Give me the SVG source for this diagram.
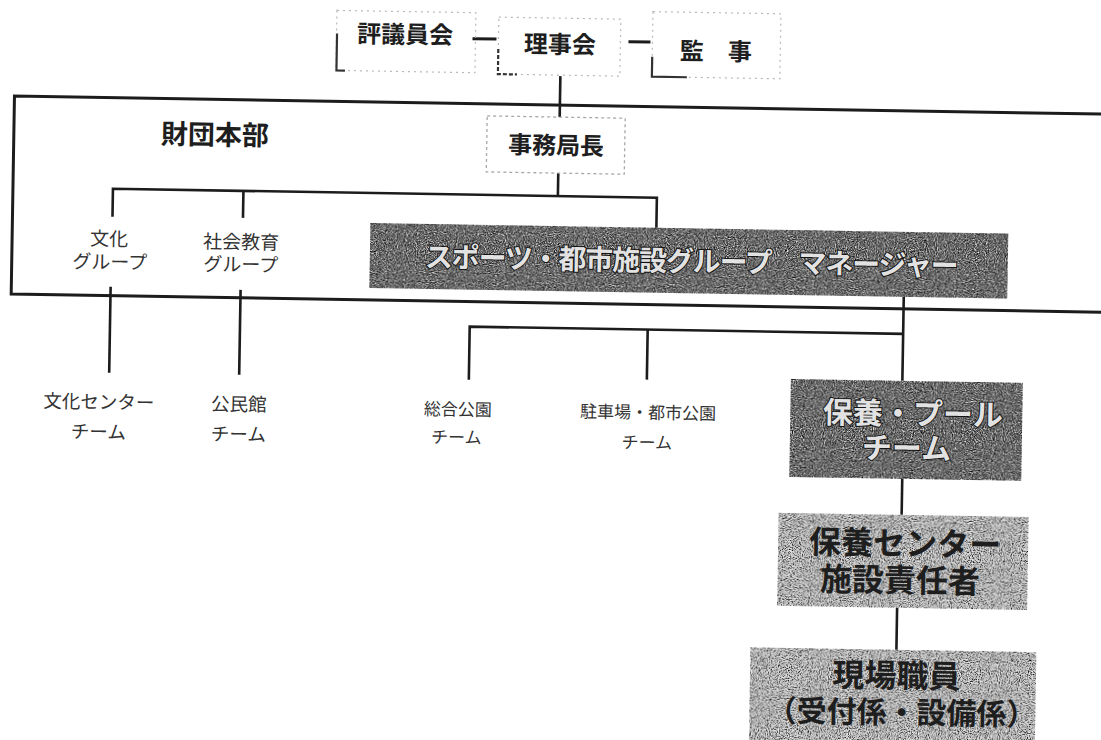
<svg xmlns="http://www.w3.org/2000/svg" width="1101" height="740" viewBox="0 0 1101 740">
<style>
  text { font-family: "Liberation Sans", "Noto Sans CJK JP", "Noto Sans CJK SC", sans-serif; text-anchor: middle; }
  .ln { stroke: #1c1c1c; stroke-width: 2.6; fill: none; }
  .dash { stroke: #1c1c1c; stroke-width: 3; fill: none; }
  .frame { stroke: #1c1c1c; stroke-width: 3; fill: none; }
  .faint { stroke: #b8b8b8; stroke-width: 1.2; fill: none; stroke-dasharray: 2 4; }
  .brk { stroke: #333; stroke-width: 2.2; fill: none; }
  .top { font-size: 24px; font-weight: 700; fill: #1e1e1e; }
  .sm { font-weight: 400; fill: #333; }
  .dark { fill: #6c6c6c; filter: url(#grain); }
  .light { fill: #c2c2c2; filter: url(#grain); }
  .inv { fill: #e2e2e2; stroke: #141414; stroke-width: 2; paint-order: stroke fill; font-weight: 700; }
  .bold { font-weight: 700; fill: #1e1e1e; }
</style>
<defs>
  <filter id="grain" x="0" y="0" width="1" height="1" color-interpolation-filters="sRGB">
    <feTurbulence type="fractalNoise" baseFrequency="0.9" numOctaves="2" seed="5" result="n"/>
    <feColorMatrix in="n" type="matrix" values="0 0 0 0 0  0 0 0 0 0  0 0 0 0 0  3 0 0 0 -1.45" result="blk"/>
    <feColorMatrix in="n" type="matrix" values="0 0 0 0 1  0 0 0 0 1  0 0 0 0 1  -3 0 0 0 1.45" result="wht"/>
    <feComposite in="blk" in2="SourceGraphic" operator="in" result="blkIn"/>
    <feComposite in="wht" in2="SourceGraphic" operator="in" result="whtIn"/>
    <feMerge>
      <feMergeNode in="SourceGraphic"/>
      <feMergeNode in="blkIn"/>
      <feMergeNode in="whtIn"/>
    </feMerge>
  </filter>
</defs>
<rect width="1101" height="740" fill="#ffffff"/>
<g transform="rotate(0.95 550 370)">
  <g id="zaidan-honbu">
    <path class="frame" d="M1130 105 H10 V303 H1130"/>
    <text class="bold" x="211" y="150" font-size="27">財団本部</text>
  </g>

  <g id="connectors">
    <line class="dash" x1="467" y1="40" x2="491" y2="40"/>
    <line class="dash" x1="623" y1="40.5" x2="645" y2="40.5"/>
    <line class="ln" x1="555.5" y1="76" x2="555.5" y2="117"/>
    <line class="ln" x1="555" y1="173" x2="555" y2="196"/>
    <polyline class="ln" points="110,224 110,196 654,196 654,226"/>
    <line class="ln" x1="240.5" y1="196" x2="240.5" y2="223"/>
    <line class="ln" x1="109.3" y1="294" x2="109.3" y2="380"/>
    <line class="ln" x1="239.3" y1="295" x2="239.3" y2="380"/>
    <line class="ln" x1="902.5" y1="291" x2="902.5" y2="375"/>
    <polyline class="ln" points="469,381 469,328 902.5,328"/>
    <line class="ln" x1="647" y1="328" x2="647" y2="378"/>
    <line class="ln" x1="904" y1="473" x2="904" y2="509"/>
    <line class="ln" x1="901" y1="602" x2="901" y2="644"/>
  </g>

  <g id="hyogiinkai">
    <rect class="faint" x="331" y="14" width="139" height="60"/>
    <path class="brk" d="M340 74 H331.5 V37"/>
    <text class="top" x="399.5" y="45.5">評議員会</text>
  </g>

  <g id="rijikai">
    <rect class="faint" x="493" y="18" width="122" height="57"/>
    <path class="brk" d="M493 50 V75 H512" stroke-dasharray="4 2"/>
    <text class="top" x="554.6" y="53" font-size="25">理事会</text>
  </g>

  <g id="kanji">
    <rect class="faint" x="647" y="10" width="128" height="65"/>
    <path class="brk" d="M647 55 V75 H682"/>
    <text class="top" x="710.7" y="57.4">監　事</text>
  </g>

  <g id="jimukyokucho">
    <rect x="483" y="117" width="138" height="56" fill="none" stroke="#a8a8a8" stroke-width="1.3" stroke-dasharray="3 3"/>
    <text class="top" x="552.3" y="154">事務局長</text>
  </g>

  <g id="bunka-group">
    <text class="sm" x="107" y="253" font-size="19">文化</text>
    <text class="sm" x="108" y="276" font-size="19">グループ</text>
  </g>

  <g id="shakai-kyoiku-group">
    <text class="sm" x="239" y="254" font-size="19">社会教育</text>
    <text class="sm" x="239" y="276.5" font-size="19">グループ</text>
  </g>

  <g id="sports-toshi-shisetsu">
    <rect class="dark" x="368" y="226" width="638" height="65"/>
    <text class="inv" x="690" y="269" font-size="28" textLength="534" lengthAdjust="spacing">スポーツ・都市施設グループ　マネージャー</text>
  </g>

  <g id="bunka-center">
    <text class="sm" x="99.5" y="416" font-size="18.5">文化センター</text>
    <text class="sm" x="99.5" y="446" font-size="18.5">チーム</text>
  </g>

  <g id="kominkan">
    <text class="sm" x="239.5" y="416" font-size="18.5">公民館</text>
    <text class="sm" x="239.5" y="446" font-size="18.5">チーム</text>
  </g>

  <g id="sogo-koen">
    <text class="sm" x="458.6" y="417" font-size="17">総合公園</text>
    <text class="sm" x="457.6" y="445" font-size="17">チーム</text>
  </g>

  <g id="chushajo-toshi-koen">
    <text class="sm" x="648.7" y="417" font-size="17">駐車場・都市公園</text>
    <text class="sm" x="648" y="447" font-size="17">チーム</text>
  </g>

  <g id="hoyo-pool">
    <rect class="dark" x="791" y="375" width="232" height="98"/>
    <text class="inv" x="913.7" y="418.5" font-size="30">保養・プール</text>
    <text class="inv" x="907.8" y="453" font-size="30">チーム</text>
  </g>

  <g id="hoyo-center">
    <rect class="light" x="781" y="509" width="250" height="93"/>
    <text class="bold" x="908" y="549" font-size="32">保養センター</text>
    <text class="bold" x="903.5" y="586" font-size="32">施設責任者</text>
  </g>

  <g id="genba-shokuin">
    <rect class="light" x="755" y="644" width="286" height="116"/>
    <text class="bold" x="901.6" y="681.5" font-size="32">現場職員</text>
    <text class="bold" x="907.2" y="717.5" font-size="30">（受付係・設備係）</text>
  </g>
</g>
</svg>
